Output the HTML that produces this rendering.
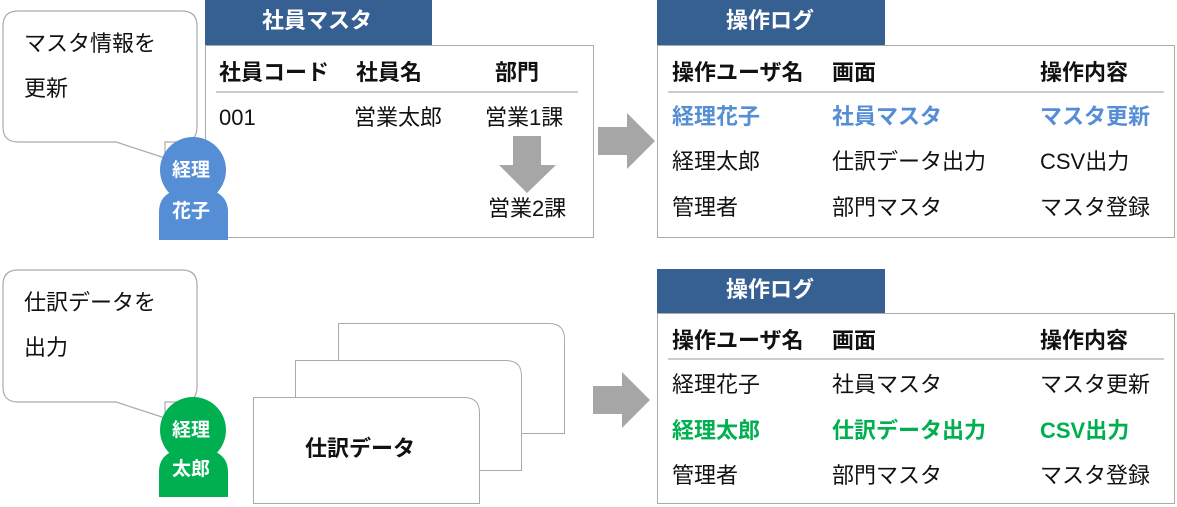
<!DOCTYPE html>
<html><head><meta charset="utf-8"><style>
body{margin:0;width:1177px;height:507px;background:#fff;position:relative;overflow:hidden;font-family:"Liberation Sans","Noto Sans CJK JP",sans-serif;}
.t{position:absolute;font-size:22px;line-height:24px;white-space:nowrap;color:#111;}
.b{font-weight:bold;}
.w{color:#fff;font-weight:bold;}
.p{font-size:19px;}
.bl{color:#558ED5;font-weight:bold;}
.gr{color:#00B050;font-weight:bold;}
svg{position:absolute;left:0;top:0;}
</style></head><body>
<svg width="1177" height="507">
<path d="M18,11 H182 Q197,11 197,26 V127 Q197,142 182,142 H165 V158 L116,142 H18 Q3,142 3,127 V26 Q3,11 18,11 Z" fill="#fff" stroke="#aaa" stroke-width="1.2"/>
<path d="M18,270 H182 Q197,270 197,285 V387 Q197,402 182,402 H165 V418 L116,402 H18 Q3,402 3,387 V285 Q3,270 18,270 Z" fill="#fff" stroke="#aaa" stroke-width="1.2"/>
<rect x="205.5" y="45.5" width="388" height="192" fill="#fff" stroke="#aaa"/>
<rect x="205" y="0" width="227" height="45" fill="#376092"/>
<line x1="216" y1="92" x2="578" y2="92" stroke="#999"/>
<rect x="657.5" y="45.5" width="517" height="192" fill="#fff" stroke="#aaa"/>
<rect x="657" y="0" width="228" height="45" fill="#376092"/>
<line x1="668" y1="92" x2="1164" y2="92" stroke="#999"/>
<rect x="657.5" y="313.5" width="517" height="190" fill="#fff" stroke="#aaa"/>
<rect x="657" y="269" width="228" height="44" fill="#376092"/>
<line x1="668" y1="359" x2="1164" y2="359" stroke="#999"/>
<polygon points="513,136 541,136 541,165 556,165 527,193 499,165 513,165" fill="#a6a6a6"/>
<polygon points="598,127 627,127 627,113 655,141 627,169 627,155 598,155" fill="#a6a6a6"/>
<polygon points="593,386 622,386 622,372 650,400 622,428 622,414 593,414" fill="#a6a6a6"/>
<circle cx="193" cy="170" r="33" fill="#558ED5"/>
<path d="M159,240 V212 Q159,188 193,188 Q228,188 228,212 V240 Z" fill="#558ED5"/>
<circle cx="193" cy="430" r="33" fill="#00B050"/>
<path d="M159,497 V472 Q159,448 193,448 Q228,448 228,472 V497 Z" fill="#00B050"/>
<path d="M338.5,323.5 H549 Q564.5,323.5 564.5,339 V433.5 H338.5 Z" fill="#fff" stroke="#aaa"/>
<path d="M295.5,360.5 H506 Q521.5,360.5 521.5,376 V470.5 H295.5 Z" fill="#fff" stroke="#aaa"/>
<path d="M253.5,397.5 H464 Q479.5,397.5 479.5,413 V503.5 H253.5 Z" fill="#fff" stroke="#aaa"/>
</svg>

<div class="t" style="left:24px;top:32px">マスタ情報を</div>
<div class="t" style="left:24px;top:77px">更新</div>
<div class="t" style="left:24px;top:291px">仕訳データを</div>
<div class="t" style="left:24px;top:336px">出力</div>

<div class="t w p" style="left:172px;top:159px">経理</div>
<div class="t w p" style="left:172px;top:200px">花子</div>
<div class="t w p" style="left:172px;top:419px">経理</div>
<div class="t w p" style="left:172px;top:458px">太郎</div>

<div class="t w" style="left:262px;top:9px">社員マスタ</div>
<div class="t b" style="left:219px;top:61px">社員コード</div>
<div class="t b" style="left:356px;top:61px">社員名</div>
<div class="t b" style="left:495px;top:61px">部門</div>
<div class="t" style="left:219px;top:106px">001</div>
<div class="t" style="left:354px;top:106px">営業太郎</div>
<div class="t" style="left:485px;top:106px">営業1課</div>
<div class="t" style="left:488px;top:197px">営業2課</div>

<div class="t b" style="left:305px;top:437px">仕訳データ</div>

<div class="t w" style="left:726px;top:9px">操作ログ</div>
<div class="t b" style="left:672px;top:61px">操作ユーザ名</div>
<div class="t b" style="left:832px;top:61px">画面</div>
<div class="t b" style="left:1040px;top:61px">操作内容</div>
<div class="t bl" style="left:672px;top:105px">経理花子</div>
<div class="t bl" style="left:832px;top:105px">社員マスタ</div>
<div class="t bl" style="left:1040px;top:105px">マスタ更新</div>
<div class="t" style="left:672px;top:150px">経理太郎</div>
<div class="t" style="left:832px;top:150px">仕訳データ出力</div>
<div class="t" style="left:1040px;top:150px">CSV出力</div>
<div class="t" style="left:672px;top:196px">管理者</div>
<div class="t" style="left:832px;top:196px">部門マスタ</div>
<div class="t" style="left:1040px;top:196px">マスタ登録</div>

<div class="t w" style="left:726px;top:278px">操作ログ</div>
<div class="t b" style="left:672px;top:329px">操作ユーザ名</div>
<div class="t b" style="left:832px;top:329px">画面</div>
<div class="t b" style="left:1040px;top:329px">操作内容</div>
<div class="t" style="left:672px;top:373px">経理花子</div>
<div class="t" style="left:832px;top:373px">社員マスタ</div>
<div class="t" style="left:1040px;top:373px">マスタ更新</div>
<div class="t gr" style="left:672px;top:419px">経理太郎</div>
<div class="t gr" style="left:832px;top:419px">仕訳データ出力</div>
<div class="t gr" style="left:1040px;top:419px">CSV出力</div>
<div class="t" style="left:672px;top:464px">管理者</div>
<div class="t" style="left:832px;top:464px">部門マスタ</div>
<div class="t" style="left:1040px;top:464px">マスタ登録</div>
</body></html>
